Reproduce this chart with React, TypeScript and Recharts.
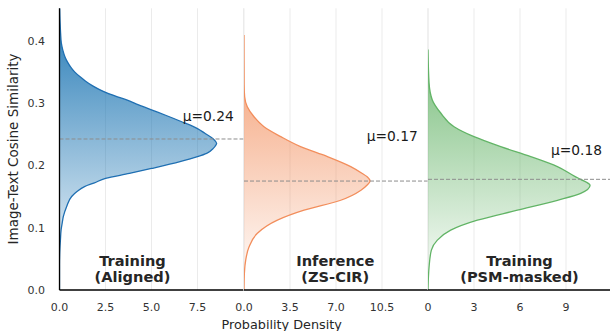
import React from 'react';
import { AreaChart, Area, XAxis, YAxis, CartesianGrid, ReferenceLine } from 'recharts';

// ---- data ----
// Panel 1: Training (Aligned)
const simAligned = [0, 0.04, 0.065, 0.08, 0.097, 0.11, 0.118, 0.134, 0.15, 0.158, 0.166, 0.172, 0.179, 0.187, 0.195, 0.206, 0.214, 0.2193, 0.2273, 0.2354, 0.2423, 0.2514, 0.259, 0.27, 0.28, 0.289, 0.297, 0.305, 0.31, 0.316, 0.322, 0.328, 0.335, 0.342, 0.35, 0.358, 0.366, 0.374, 0.385, 0.396, 0.412, 0.452];
const densAligned = [0, 0.0, 0.02, 0.05, 0.09, 0.16, 0.21, 0.39, 0.66, 0.95, 1.36, 1.9, 2.5, 3.8, 5.0, 6.55, 7.5, 8.0, 8.36, 8.54, 8.36, 7.9, 7.5, 6.64, 5.8, 5.0, 4.3, 3.65, 3.15, 2.6, 2.15, 1.78, 1.42, 1.12, 0.82, 0.6, 0.43, 0.3, 0.18, 0.1, 0.06, 0.01];

// Panel 2: Inference (ZS-CIR)
const simInference = [0, 0.027, 0.048, 0.069, 0.091, 0.112, 0.128, 0.144, 0.16, 0.168, 0.175, 0.182, 0.187, 0.198, 0.214, 0.23, 0.246, 0.262, 0.278, 0.294, 0.31, 0.33, 0.409];
const densInference = [0, 0.03, 0.13, 0.38, 1.02, 2.54, 4.57, 7.36, 8.9, 9.35, 9.59, 9.35, 9.0, 8.12, 6.35, 4.3, 2.8, 1.52, 0.76, 0.25, 0.05, 0.01, 0];

// Panel 3: Training (PSM-masked)
const simMasked = [0, 0.037, 0.064, 0.08, 0.096, 0.112, 0.128, 0.144, 0.155, 0.168, 0.1776, 0.182, 0.198, 0.214, 0.23, 0.246, 0.262, 0.284, 0.305, 0.332, 0.386];
const densMasked = [0, 0.07, 0.22, 0.61, 1.48, 3.22, 5.83, 8.44, 9.96, 10.57, 9.96, 9.6, 8.44, 6.7, 4.74, 3.0, 1.7, 0.83, 0.28, 0.07, 0];

const means = [0.2423, 0.1748, 0.1776];
const meanLabels = ['μ=0.24', 'μ=0.17', 'μ=0.18'];
const titlesTop = ['Training', 'Inference', 'Training'];
const titlesBottom = ['(Aligned)', '(ZS-CIR)', '(PSM-masked)'];
const xDomains = [10, 14, 12];
const xTicks = [
  [0, 2.5, 5, 7.5],
  [0, 3.5, 7, 10.5],
  [0, 3, 6, 9],
];
const xTickDigits = [1, 1, 0];
const yTicks = [0, 0.1, 0.2, 0.3, 0.4];
const yMax = 0.452;

const strokeColors = ['#1f6fb2', '#f28e5c', '#62b466'];
const fillColors = ['#1f77b4', '#f28e5c', '#5fb162'];

const series = [
  { sim: simAligned, dens: densAligned },
  { sim: simInference, dens: densInference },
  { sim: simMasked, dens: densMasked },
];

const FONT = '"DejaVu Sans", sans-serif';
const PLOT_TOP = 8.3;
const PLOT_BOTTOM = 290;
const CHART_H = 331;
const PANEL_W = 184;
const PAD = 20;
const Y_AXIS_W = 59.5;

function Panel({ idx }: { idx: number }) {
  const s = series[idx];
  const data = s.sim.map((v, i) => ({ s: v, d: s.dens[i] }));
  const first = idx === 0;
  const marginLeft = first ? 0 : PAD;
  const marginRight = PAD;
  const width = (first ? Y_AXIS_W : 0) + PANEL_W + marginLeft + marginRight;
  const left = first ? 0 : Y_AXIS_W + idx * PANEL_W - PAD;
  const gid = `grad${idx}`;
  return (
    <div style={{ position: 'absolute', left, top: 0 }}>
      <AreaChart
        width={width}
        height={CHART_H}
        data={data}
        layout="vertical"
        margin={{ top: PLOT_TOP, right: marginRight, bottom: 0, left: marginLeft }}
      >
        <defs>
          <linearGradient id={gid} gradientUnits="userSpaceOnUse" x1="0" y1={PLOT_TOP} x2="0" y2={PLOT_BOTTOM}>
            <stop offset="0" stopColor={fillColors[idx]} stopOpacity={0.98} />
            <stop offset="1" stopColor={fillColors[idx]} stopOpacity={0.0} />
          </linearGradient>
        </defs>
        <CartesianGrid horizontal={false} vertical={true} stroke="#ebebeb" strokeWidth={1} />
        <XAxis
          type="number"
          dataKey="d"
          domain={[0, xDomains[idx]]}
          ticks={xTicks[idx]}
          interval={0}
          height={CHART_H - PLOT_BOTTOM}
          allowDataOverflow
          tickFormatter={(v: number) => v.toFixed(xTickDigits[idx])}
          tickLine={false}
          tickMargin={7}
          axisLine={{ stroke: '#000', strokeWidth: 1.3 }}
          tick={{ fill: '#333', fontSize: 11, fontFamily: FONT }}
        />
        <YAxis
          type="number"
          dataKey="s"
          domain={[0, yMax]}
          reversed
          allowDataOverflow
          ticks={yTicks}
          interval={0}
          hide={!first}
          width={Y_AXIS_W}
          tickFormatter={(v: number) => v.toFixed(1)}
          tickLine={false}
          tickMargin={8.5}
          axisLine={{ stroke: '#000', strokeWidth: 1.3 }}
          tick={{ fill: '#333', fontSize: 11, fontFamily: FONT }}
        />
        <Area
          type="monotone"
          dataKey="d"
          stroke={strokeColors[idx]}
          strokeWidth={1.3}
          fill={`url(#${gid})`}
          fillOpacity={1}
          dot={false}
          activeDot={false}
          isAnimationActive={false}
        />
        <ReferenceLine y={means[idx]} stroke="#8c8c8c" strokeWidth={1} strokeDasharray="4 2" />
      </AreaChart>
    </div>
  );
}

const meanLabelPos = [
  { x: 182.7, y: 120.7 },
  { x: 366.7, y: 140.7 },
  { x: 551, y: 155.3 },
];
const titleCenters = [132.5, 335.3, 519.5];

export default function App() {
  return (
    <div
      style={{
        position: 'absolute',
        left: 0,
        top: 0,
        width: 610,
        height: 331,
        overflow: 'hidden',
        background: '#fff',
        fontFamily: FONT,
      }}
    >
      {[0, 1, 2].map((i) => (
        <Panel key={i} idx={i} />
      ))}
      <svg
        width={610}
        height={331}
        style={{ position: 'absolute', left: 0, top: 0, pointerEvents: 'none' }}
        fontFamily={FONT}
      >
        {meanLabels.map((t, i) => (
          <text key={`m${i}`} x={meanLabelPos[i].x} y={meanLabelPos[i].y} fontSize={13.8} fill="#1a1a1a">
            {t}
          </text>
        ))}
        {titlesTop.map((t, i) => (
          <g key={`t${i}`}>
            <text x={titleCenters[i]} y={266} textAnchor="middle" fontSize={14.6} fontWeight="bold" fill="#262626">
              {t}
            </text>
            <text x={titleCenters[i]} y={282.3} textAnchor="middle" fontSize={14.6} fontWeight="bold" fill="#262626">
              {titlesBottom[i]}
            </text>
          </g>
        ))}
        <text x={281.7} y={328.6} textAnchor="middle" fontSize={12.8} fill="#262626">
          Probability Density
        </text>
        <text
          x={17.8}
          y={149}
          textAnchor="middle"
          fontSize={13.5}
          fill="#262626"
          transform="rotate(-90 17.8 149)"
        >
          Image-Text Cosine Similarity
        </text>
      </svg>
    </div>
  );
}
